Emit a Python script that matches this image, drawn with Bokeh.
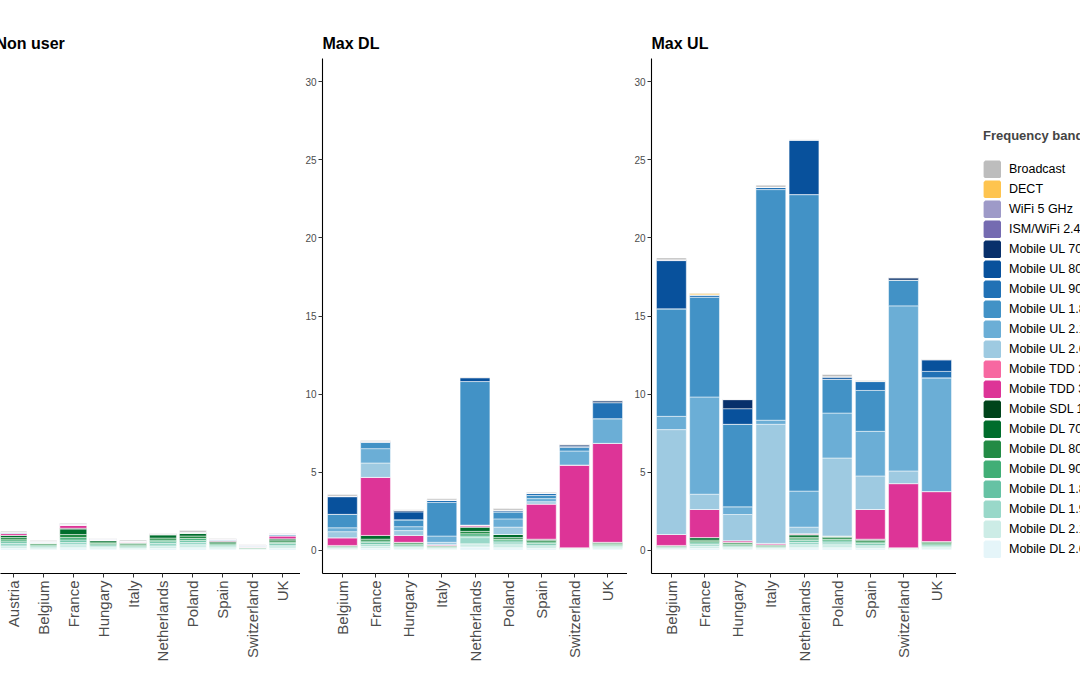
import math
from bokeh.plotting import figure
from bokeh.layouts import row
from bokeh.models import ColumnDataSource, FixedTicker, Legend, LegendItem
from bokeh.embed import file_html
from bokeh.resources import INLINE

# ---------------- data ----------------
BANDS = ["Broadcast", "DECT", "WiFi 5 GHz", "ISM/WiFi 2.4 GHz",
         "Mobile UL 700 MHz", "Mobile UL 800 MHz", "Mobile UL 900 MHz",
         "Mobile UL 1.8 GHz", "Mobile UL 2.1 GHz", "Mobile UL 2.6 GHz",
         "Mobile TDD 2.6 GHz", "Mobile TDD 3.5 GHz", "Mobile SDL 1.4 GHz",
         "Mobile DL 700 MHz", "Mobile DL 800 MHz", "Mobile DL 900 MHz",
         "Mobile DL 1.8 GHz", "Mobile DL 1.9 GHz", "Mobile DL 2.1 GHz",
         "Mobile DL 2.6 GHz"]
COLORS = ["#BDBDBD", "#FEC44F", "#9E9AC8", "#756BB1",
          "#08306B", "#08519C", "#2171B5", "#4292C6", "#6BAED6", "#9ECAE1",
          "#F768A1", "#DD3497", "#00441B",
          "#006D2C", "#238B45", "#41AE76", "#66C2A4", "#99D8C9", "#CCECE6",
          "#E5F5F9"]

NU_COUNTRIES = ["Austria", "Belgium", "France", "Hungary", "Italy",
                "Netherlands", "Poland", "Spain", "Switzerland", "UK"]
COUNTRIES = ["Belgium", "France", "Hungary", "Italy", "Netherlands",
             "Poland", "Spain", "Switzerland", "UK"]
Y_TICKS = [0, 5, 10, 15, 20, 25, 30]

# Non user
nu_broadcast = [0.06, 0.06, 0.05, 0.02, 0.05, 0.02, 0.10, 0.03, 0.02, 0.03]
nu_dect = [0, 0, 0, 0, 0, 0, 0, 0, 0, 0]
nu_wifi5 = [0, 0, 0, 0, 0, 0, 0, 0, 0, 0]
nu_ism = [0.03, 0.04, 0.04, 0.03, 0.03, 0.02, 0.03, 0.03, 0.05, 0.03]
nu_ul700 = [0, 0, 0, 0, 0, 0, 0, 0, 0, 0]
nu_ul800 = [0, 0, 0, 0, 0, 0, 0, 0, 0, 0]
nu_ul900 = [0, 0, 0, 0, 0, 0, 0, 0, 0, 0]
nu_ul18 = [0.05, 0.05, 0.05, 0.05, 0.04, 0.02, 0.02, 0.05, 0.06, 0.08]
nu_ul21 = [0, 0, 0, 0, 0, 0, 0, 0, 0, 0]
nu_ul26 = [0, 0, 0, 0, 0, 0, 0, 0, 0, 0]
nu_tdd26 = [0, 0, 0, 0, 0, 0, 0, 0, 0, 0]
nu_tdd35 = [0.12, 0.02, 0.20, 0.02, 0.07, 0.02, 0.00, 0.06, 0.02, 0.20]
nu_sdl = [0, 0, 0.05, 0, 0, 0.05, 0, 0, 0, 0]
nu_dl700 = [0.15, 0.05, 0.35, 0.10, 0.06, 0.20, 0.20, 0.10, 0.03, 0.12]
nu_dl800 = [0.14, 0.08, 0.20, 0.10, 0.08, 0.13, 0.16, 0.08, 0.04, 0.10]
nu_dl900 = [0.12, 0.06, 0.15, 0.08, 0.06, 0.10, 0.12, 0.07, 0.03, 0.08]
nu_dl18 = [0.12, 0.06, 0.15, 0.08, 0.06, 0.12, 0.12, 0.07, 0.02, 0.10]
nu_dl19 = [0.15, 0.06, 0.15, 0.08, 0.06, 0.15, 0.15, 0.08, 0.03, 0.10]
nu_dl21 = [0.15, 0.08, 0.20, 0.10, 0.07, 0.15, 0.20, 0.09, 0.02, 0.12]
nu_dl26 = [0.12, 0.06, 0.15, 0.08, 0.06, 0.12, 0.15, 0.08, 0.02, 0.10]

# Max DL
dl_broadcast = [0.10, 0.05, 0.02, 0.08, 0.03, 0.10, 0.05, 0.03, 0.03]
dl_dect = [0, 0, 0, 0, 0, 0, 0, 0, 0]
dl_wifi5 = [0, 0.02, 0, 0, 0, 0, 0, 0, 0]
dl_ism = [0.01, 0.03, 0.01, 0.01, 0.01, 0.01, 0.01, 0.01, 0.01]
dl_ul700 = [0.03, 0, 0.10, 0, 0, 0, 0, 0.10, 0.12]
dl_ul800 = [1.13, 0.03, 0.51, 0, 0.25, 0.10, 0, 0.07, 0]
dl_ul900 = [0, 0, 0, 0.15, 0, 0, 0.15, 0, 1.03]
dl_ul18 = [0.86, 0.40, 0.44, 2.15, 9.20, 0.45, 0.20, 0.23, 0]
dl_ul21 = [0.25, 0.92, 0.25, 0.40, 0, 0.53, 0.20, 0.90, 1.58]
dl_ul26 = [0.39, 0.92, 0.31, 0.15, 0, 0.47, 0.15, 0, 0]
dl_tdd26 = [0, 0, 0, 0, 0, 0, 0, 0, 0]
dl_tdd35 = [0.49, 3.72, 0.44, 0.05, 0.10, 0, 2.25, 5.30, 6.34]
dl_sdl = [0, 0, 0, 0, 0.05, 0, 0, 0, 0]
dl_dl700 = [0.03, 0.24, 0.04, 0.03, 0.25, 0.20, 0.08, 0.02, 0.06]
dl_dl800 = [0.05, 0.12, 0.10, 0.05, 0.15, 0.11, 0.10, 0.02, 0.08]
dl_dl900 = [0.04, 0.10, 0.08, 0.04, 0.15, 0.10, 0.10, 0.02, 0.06]
dl_dl18 = [0.05, 0.12, 0.06, 0.05, 0.10, 0.12, 0.10, 0.02, 0.06]
dl_dl19 = [0.04, 0.10, 0.06, 0.04, 0.40, 0.12, 0.10, 0.02, 0.07]
dl_dl21 = [0.05, 0.14, 0.08, 0.05, 0.20, 0.20, 0.12, 0.03, 0.09]
dl_dl26 = [0.04, 0.12, 0.08, 0.04, 0.20, 0.15, 0.10, 0.02, 0.08]

# Max UL
ul_broadcast = [0.12, 0.02, 0.02, 0.12, 0.02, 0.14, 0.05, 0.02, 0.03]
ul_dect = [0, 0.10, 0, 0, 0, 0, 0, 0, 0]
ul_wifi5 = [0, 0, 0, 0, 0, 0, 0, 0, 0]
ul_ism = [0.02, 0.01, 0.01, 0.01, 0.01, 0.01, 0.01, 0.01, 0.01]
ul_ul700 = [0.03, 0, 0.58, 0, 0, 0, 0, 0.15, 0]
ul_ul800 = [3.09, 0, 1.00, 0, 3.50, 0.15, 0, 0, 0.75]
ul_ul900 = [0, 0.15, 0, 0.15, 0, 0, 0.57, 0, 0.41]
ul_ul18 = [6.89, 6.39, 5.29, 14.78, 19.00, 2.17, 2.62, 1.65, 0]
ul_ul21 = [0.85, 6.23, 0.49, 0.26, 2.31, 2.88, 2.86, 10.58, 7.29]
ul_ul26 = [6.72, 0.98, 1.68, 7.63, 0.42, 5.00, 2.15, 0.81, 0]
ul_tdd26 = [0, 0, 0, 0, 0, 0, 0, 0, 0]
ul_tdd35 = [0.70, 1.80, 0.10, 0.08, 0.05, 0, 1.90, 4.11, 3.20]
ul_sdl = [0, 0, 0, 0, 0.03, 0, 0, 0, 0]
ul_dl700 = [0.03, 0.16, 0.04, 0.04, 0.15, 0.10, 0.08, 0.02, 0.07]
ul_dl800 = [0.05, 0.10, 0.10, 0.06, 0.10, 0.11, 0.10, 0.02, 0.08]
ul_dl900 = [0.04, 0.08, 0.08, 0.05, 0.10, 0.10, 0.10, 0.02, 0.07]
ul_dl18 = [0.05, 0.10, 0.06, 0.05, 0.12, 0.12, 0.10, 0.02, 0.07]
ul_dl19 = [0.04, 0.10, 0.06, 0.04, 0.15, 0.12, 0.10, 0.02, 0.08]
ul_dl21 = [0.05, 0.14, 0.08, 0.06, 0.20, 0.20, 0.12, 0.03, 0.10]
ul_dl26 = [0.04, 0.12, 0.08, 0.05, 0.15, 0.15, 0.10, 0.02, 0.08]

NU_SERIES = [nu_broadcast, nu_dect, nu_wifi5, nu_ism, nu_ul700, nu_ul800, nu_ul900,
             nu_ul18, nu_ul21, nu_ul26, nu_tdd26, nu_tdd35, nu_sdl, nu_dl700,
             nu_dl800, nu_dl900, nu_dl18, nu_dl19, nu_dl21, nu_dl26]
DL_SERIES = [dl_broadcast, dl_dect, dl_wifi5, dl_ism, dl_ul700, dl_ul800, dl_ul900,
             dl_ul18, dl_ul21, dl_ul26, dl_tdd26, dl_tdd35, dl_sdl, dl_dl700,
             dl_dl800, dl_dl900, dl_dl18, dl_dl19, dl_dl21, dl_dl26]
UL_SERIES = [ul_broadcast, ul_dect, ul_wifi5, ul_ism, ul_ul700, ul_ul800, ul_ul900,
             ul_ul18, ul_ul21, ul_ul26, ul_tdd26, ul_tdd35, ul_sdl, ul_dl700,
             ul_dl800, ul_dl900, ul_dl18, ul_dl19, ul_dl21, ul_dl26]

FONT = "Liberation Sans"
TOP = 58
FRAME_H = 515
BOTTOM = 102


def panel(title, countries, series, x0, frame_w, border_left, show_y, title_offset=0):
    n = len(countries)
    p = figure(title=title, x_range=(x0, n - 1 + 0.6), y_range=(-1.5, 31.5),
               frame_width=frame_w, frame_height=FRAME_H,
               min_border_left=border_left, min_border_right=0,
               min_border_top=TOP, min_border_bottom=BOTTOM,
               output_backend="svg", toolbar_location=None)
    data = {"x": list(range(n))}
    for i, s in enumerate(series):
        data[f"b{i}"] = s
    src = ColumnDataSource(data)
    order = list(range(len(BANDS)))[::-1]  # bottom of stack = last band
    p.vbar_stack([f"b{i}" for i in order], x="x", width=0.9, source=src,
                 fill_color=[COLORS[i] for i in order],
                 line_color="white", line_width=0.5)

    p.xaxis.ticker = FixedTicker(ticks=list(range(n)))
    p.xaxis.major_label_overrides = {i: c for i, c in enumerate(countries)}
    p.xaxis.major_label_orientation = math.pi / 2
    p.yaxis.ticker = FixedTicker(ticks=Y_TICKS)
    for ax in (p.xaxis[0], p.yaxis[0]):
        ax.axis_line_color = "black"
        ax.axis_line_width = 1.1
        ax.major_tick_line_color = "#333333"
        ax.major_tick_out = 4
        ax.major_tick_in = 0
        ax.minor_tick_line_color = None
        ax.major_label_text_color = "#4D4D4D"
        ax.major_label_text_font = FONT
    p.xaxis.major_label_text_font_size = "15px"
    p.xaxis.major_label_standoff = 3
    p.yaxis.major_label_text_font_size = "10px"
    p.yaxis.major_label_standoff = 2
    if not show_y:
        p.yaxis.visible = False
    p.grid.visible = False
    p.outline_line_color = None
    p.title.text_font = FONT
    p.title.text_font_size = "16px"
    p.title.text_font_style = "bold"
    p.title.text_color = "black"
    p.title.offset = title_offset
    p.title.standoff = 13
    return p


p1 = panel("Non user", NU_COUNTRIES, NU_SERIES, -0.435, 300, 0, False, title_offset=-5)
p2 = panel("Max DL", COUNTRIES, DL_SERIES, -0.6, 305, 22, True)
p3 = panel("Max UL", COUNTRIES, UL_SERIES, -0.6, 305, 24, True)

# legend panel (frame aligned with the others)
pl = figure(frame_width=97, frame_height=FRAME_H, x_range=(0, 1), y_range=(0, 1),
            min_border_left=27, min_border_top=TOP, min_border_right=0,
            min_border_bottom=BOTTOM, output_backend="svg", toolbar_location=None)
pl.axis.visible = False
pl.grid.visible = False
pl.outline_line_color = None
items = []
for b, c in zip(BANDS, COLORS):
    # tiny legend-key renderer, hidden behind the opaque legend box
    r = pl.vbar(x=[0.6], top=[0.5005], bottom=[0.5], width=0.005,
                fill_color=c, line_color=c, line_width=3.4)
    items.append(LegendItem(label=b, renderers=[r]))
legend = Legend(items=items, location=(0, 15), title="Frequency band",
                title_text_font=FONT, title_text_font_style="bold",
                title_text_font_size="13px", title_standoff=17,
                label_text_font=FONT, label_text_font_size="12.5px",
                label_text_color="black",
                glyph_width=18, glyph_height=18, label_height=18,
                label_standoff=8, spacing=2, padding=0, margin=0,
                border_line_color=None, background_fill_color="white",
                background_fill_alpha=1)
pl.add_layout(legend)

layout = row(p1, p2, p3, pl)
open("out.html", "w").write(file_html(layout, INLINE))
